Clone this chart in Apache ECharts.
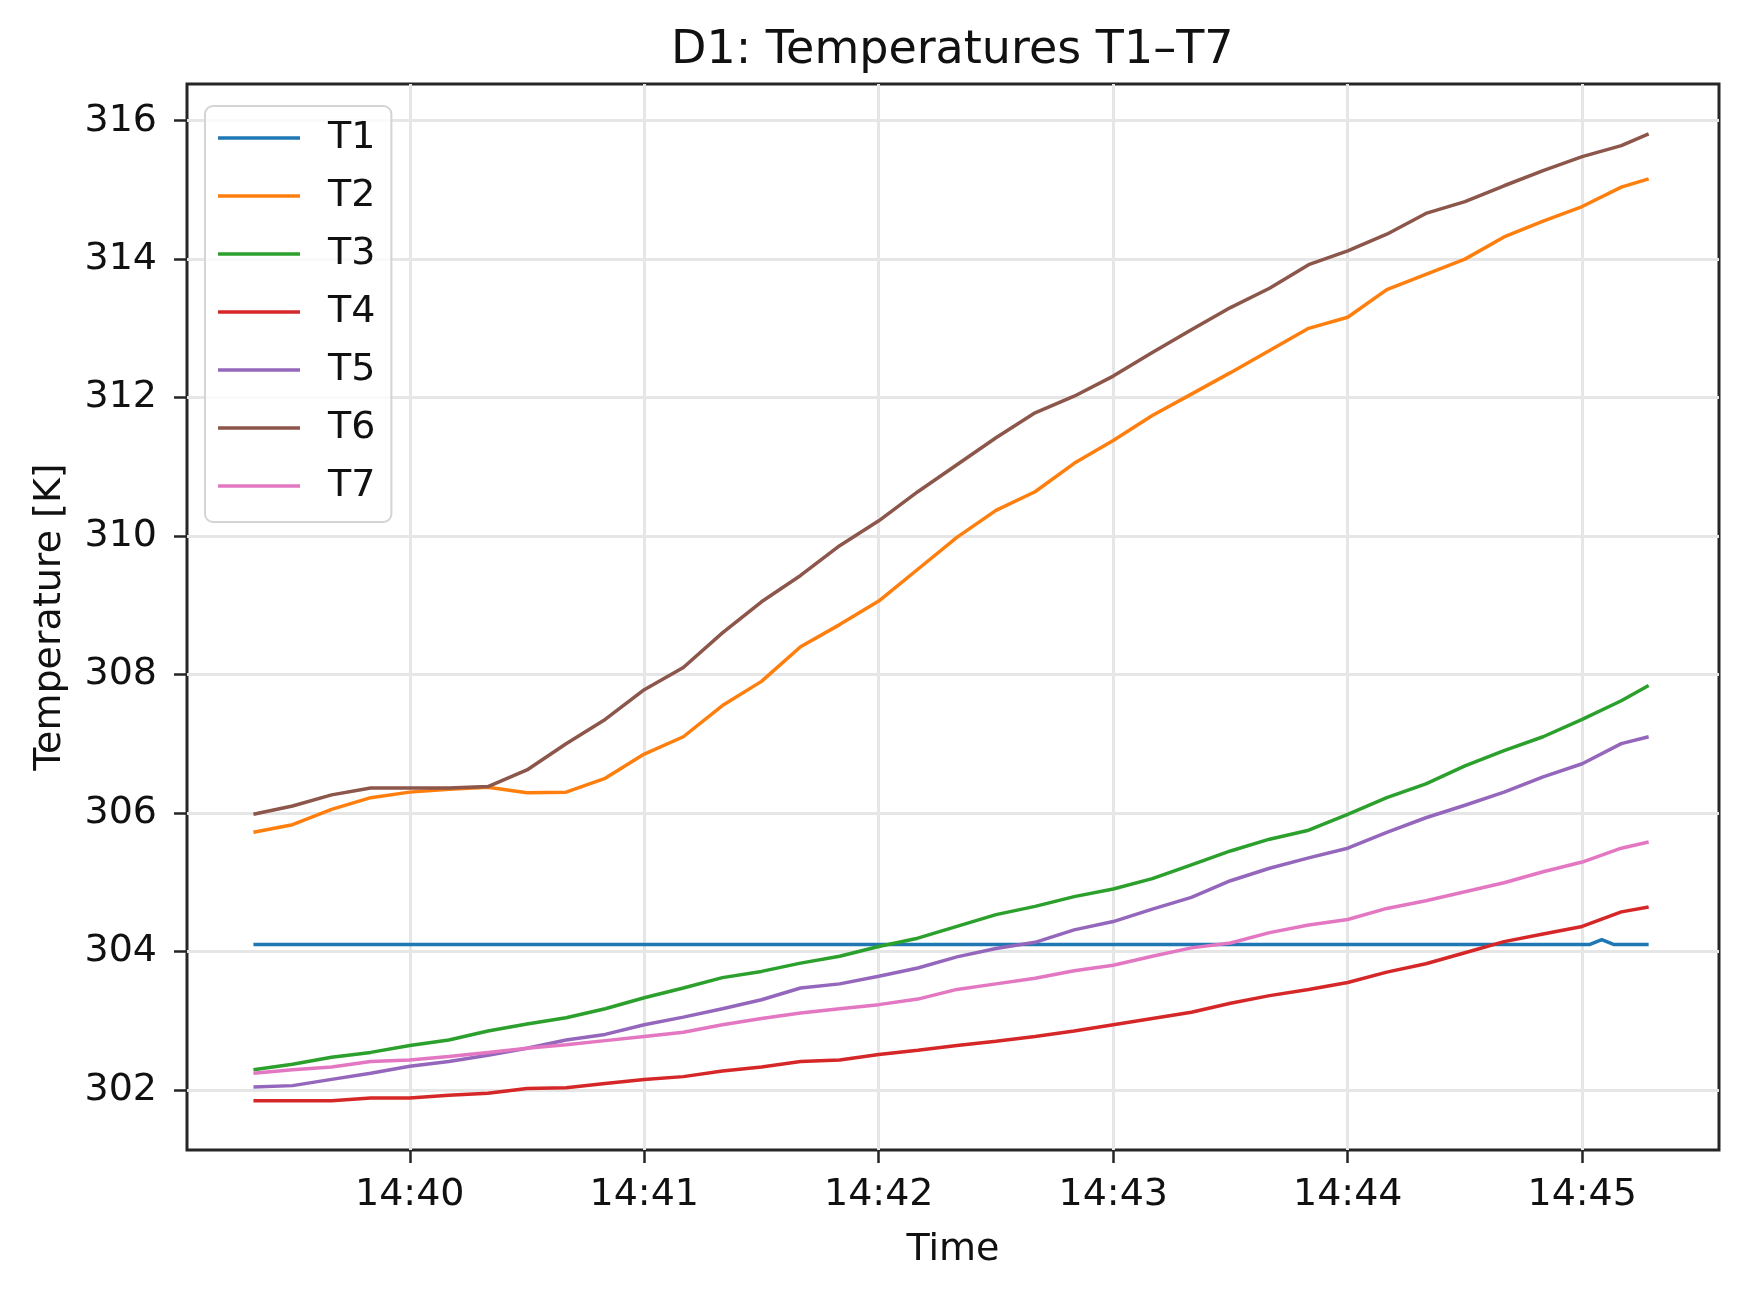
<!DOCTYPE html>
<html>
<head>
<meta charset="utf-8">
<title>D1: Temperatures T1–T7</title>
<script src="https://cdn.jsdelivr.net/npm/echarts@6.0.0/dist/echarts.min.js"></script>
<style>
  html, body { margin: 0; padding: 0; background: #fff; }
  #main { width: 1756px; height: 1293px; }
</style>
</head>
<body>
<div id="main"></div>
<script>
// sample times (every 10 s, last one is the final reading)
const times = [
  '14:39:20', '14:39:30', '14:39:40', '14:39:50',
  '14:40:00', '14:40:10', '14:40:20', '14:40:30', '14:40:40', '14:40:50',
  '14:41:00', '14:41:10', '14:41:20', '14:41:30', '14:41:40', '14:41:50',
  '14:42:00', '14:42:10', '14:42:20', '14:42:30', '14:42:40', '14:42:50',
  '14:43:00', '14:43:10', '14:43:20', '14:43:30', '14:43:40', '14:43:50',
  '14:44:00', '14:44:10', '14:44:20', '14:44:30', '14:44:40', '14:44:50',
  '14:45:00', '14:45:10', '14:45:17'
]

// T1 is flat with one small blip near the end
const t1Times = ['14:39:20', '14:45:02', '14:45:05', '14:45:08', '14:45:17']
const t1 = [304.10, 304.10, 304.17, 304.10, 304.10]

const t2 = [305.72, 305.83, 306.05, 306.22, 306.30, 306.34, 306.37, 306.29, 306.30, 306.50,
  306.85, 307.10, 307.55, 307.90, 308.40, 308.72, 309.06, 309.52, 309.98, 310.37,
  310.64, 311.05, 311.38, 311.74, 312.05, 312.36, 312.68, 313.00, 313.16, 313.56,
  313.78, 314.00, 314.32, 314.55, 314.76, 315.04, 315.16]
const t3 = [302.29, 302.37, 302.47, 302.54, 302.64, 302.72, 302.85, 302.95, 303.04, 303.17,
  303.33, 303.47, 303.62, 303.71, 303.83, 303.93, 304.07, 304.19, 304.36, 304.53,
  304.65, 304.79, 304.90, 305.05, 305.25, 305.45, 305.62, 305.75, 305.98, 306.22,
  306.42, 306.68, 306.90, 307.10, 307.35, 307.62, 307.84]
const t4 = [301.84, 301.84, 301.84, 301.88, 301.88, 301.92, 301.95, 302.02, 302.03, 302.09,
  302.15, 302.19, 302.27, 302.33, 302.41, 302.43, 302.51, 302.57, 302.64, 302.70,
  302.77, 302.85, 302.94, 303.03, 303.12, 303.25, 303.36, 303.45, 303.55, 303.70,
  303.82, 303.98, 304.14, 304.25, 304.36, 304.57, 304.64]
const t5 = [302.04, 302.06, 302.15, 302.24, 302.34, 302.41, 302.50, 302.60, 302.72, 302.80,
  302.94, 303.05, 303.17, 303.30, 303.47, 303.53, 303.64, 303.76, 303.92, 304.04,
  304.13, 304.31, 304.43, 304.61, 304.78, 305.02, 305.20, 305.35, 305.49, 305.72,
  305.93, 306.11, 306.30, 306.52, 306.71, 307.00, 307.10]
const t6 = [305.98, 306.10, 306.26, 306.36, 306.36, 306.36, 306.38, 306.62, 307.00, 307.35,
  307.78, 308.10, 308.60, 309.05, 309.43, 309.86, 310.22, 310.64, 311.03, 311.42,
  311.78, 312.02, 312.31, 312.65, 312.98, 313.30, 313.58, 313.92, 314.12, 314.36,
  314.66, 314.83, 315.06, 315.28, 315.48, 315.64, 315.81]
const t7 = [302.24, 302.29, 302.33, 302.41, 302.43, 302.48, 302.54, 302.60, 302.65, 302.71,
  302.77, 302.83, 302.94, 303.03, 303.11, 303.17, 303.23, 303.31, 303.45, 303.53,
  303.61, 303.72, 303.80, 303.93, 304.05, 304.12, 304.27, 304.38, 304.46, 304.62,
  304.73, 304.86, 304.99, 305.15, 305.29, 305.49, 305.58]

const names = ['T1', 'T2', 'T3', 'T4', 'T5', 'T6', 'T7']
const colors = ['#1f77b4', '#ff7f0e', '#2ca02c', '#d62728', '#9467bd', '#8c564b', '#e377c2']

// axis ticks
const xTicks = ['14:40:00', '14:41:00', '14:42:00', '14:43:00', '14:44:00', '14:45:00']
const yTicks = [302, 304, 306, 308, 310, 312, 314, 316]

// "hh:mm:ss" -> seconds of the day
function toSec(s) {
  const p = s.split(':').map(Number)
  return p[0] * 3600 + p[1] * 60 + p[2]
}
function pad(n) {
  return n < 10 ? '0' + n : '' + n
}
function zip(ts, vs) {
  return vs.map((v, i) => [toSec(ts[i]), v])
}

const FONT = 'DejaVu Sans'
const INK = '#111'

const seriesData = [
  zip(t1Times, t1),
  zip(times, t2),
  zip(times, t3),
  zip(times, t4),
  zip(times, t5),
  zip(times, t6),
  zip(times, t7)
]

const chart = echarts.init(document.getElementById('main'), null, { renderer: 'canvas' })

chart.setOption({
  animation: false,
  backgroundColor: '#fff',
  // title sits centred over the plot area, not the canvas
  title: {
    text: 'D1: Temperatures T1–T7',
    left: 666,
    top: 23,
    textStyle: { fontFamily: FONT, fontSize: 46, fontWeight: 'normal', color: INK }
  },
  grid: {
    left: 187, right: 37, top: 84, bottom: 143,
    show: true,
    borderColor: '#262626',
    borderWidth: 3,
    backgroundColor: 'transparent'
  },
  legend: {
    orient: 'vertical',
    left: 205,
    top: 106,
    selectedMode: false,
    icon: 'rect',
    itemWidth: 82,
    itemHeight: 3.5,
    itemGap: 20,
    padding: [13, 16, 17, 13],
    backgroundColor: 'rgba(255,255,255,0.8)',
    borderColor: '#d4d4d4',
    borderWidth: 2,
    borderRadius: 8,
    textStyle: {
      fontFamily: FONT, fontSize: 38, color: INK,
      lineHeight: 38, padding: [0, 0, 0, 23]
    },
    data: names
  },
  xAxis: {
    type: 'value',
    min: toSec('14:39:03'),
    max: toSec('14:45:35'),
    name: 'Time',
    nameLocation: 'middle',
    nameGap: 81,
    nameTextStyle: { fontFamily: FONT, fontSize: 38, color: INK },
    axisLine: { show: false },
    axisTick: {
      show: true, inside: false, length: 13,
      customValues: xTicks.map(toSec),
      lineStyle: { color: '#262626', width: 2.5 }
    },
    axisLabel: {
      customValues: xTicks.map(toSec),
      margin: 26,
      fontFamily: FONT, fontSize: 38, color: INK,
      formatter: v => pad(Math.floor(v / 3600)) + ':' + pad(Math.floor(v % 3600 / 60))
    },
    splitLine: { show: true, lineStyle: { color: '#e6e6e6', width: 3 } }
  },
  yAxis: {
    type: 'value',
    min: 301.13,
    max: 316.53,
    name: 'Temperature [K]',
    nameLocation: 'middle',
    nameGap: 118,
    nameTextStyle: { fontFamily: FONT, fontSize: 38, color: INK },
    axisLine: { show: false },
    axisTick: {
      show: true, inside: false, length: 13,
      customValues: yTicks,
      lineStyle: { color: '#262626', width: 2.5 }
    },
    axisLabel: {
      customValues: yTicks,
      margin: 30,
      fontFamily: FONT, fontSize: 38, color: INK
    },
    splitLine: { show: true, lineStyle: { color: '#e6e6e6', width: 3 } }
  },
  series: names.map((n, i) => ({
    name: n,
    type: 'line',
    data: seriesData[i],
    showSymbol: false,
    symbol: 'none',
    color: colors[i],
    lineStyle: { color: colors[i], width: 3.5 },
    emphasis: { disabled: true },
    z: 2 + i
  }))
})
</script>
</body>
</html>
